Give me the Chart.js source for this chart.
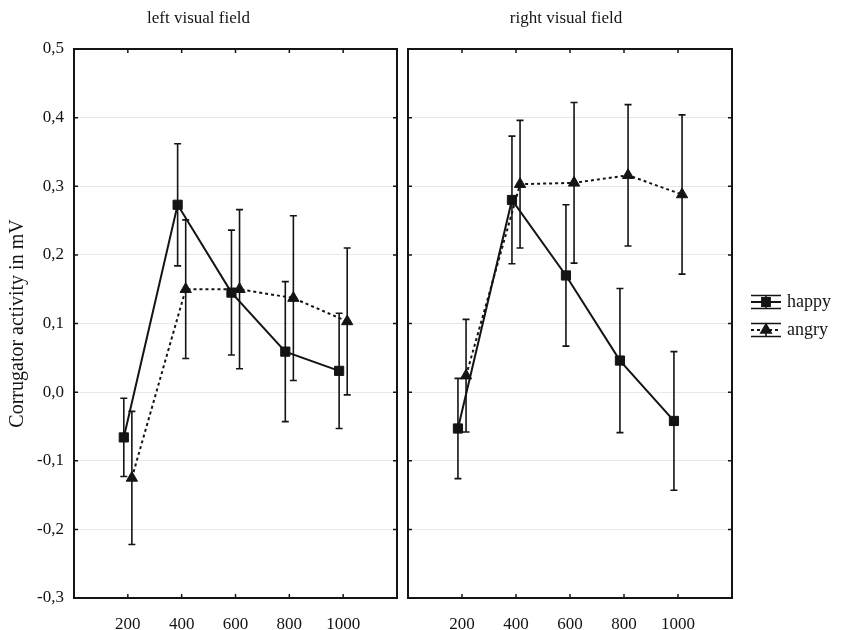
<!DOCTYPE html>
<html><head><meta charset="utf-8">
<script src="https://cdn.jsdelivr.net/npm/chart.js@4"></script>
<style>
body{margin:0;background:#fff;width:841px;height:630px;position:relative;overflow:hidden}
canvas{position:absolute;top:0}
#leftChart{left:0}
#rightChart{left:400px}
</style></head><body>
<canvas id="leftChart" width="400" height="630"></canvas>
<canvas id="rightChart" width="441" height="630"></canvas>
<script>
// time points (ms) and values
const times=[200,400,600,800,1000];
const panelTitles=['left visual field','right visual field'];
const seriesNames=['happy','angry'];
const yTitle='Corrugator activity in mV';

const leftHappy=[-0.066,0.273,0.145,0.059,0.031];
const leftHappyErr=[0.057,0.089,0.091,0.102,0.084];
const leftAngry=[-0.125,0.150,0.150,0.137,0.103];
const leftAngryErr=[0.097,0.101,0.116,0.120,0.107];

const rightHappy=[-0.053,0.280,0.170,0.046,-0.042];
const rightHappyErr=[0.073,0.093,0.103,0.105,0.101];
const rightAngry=[0.024,0.303,0.305,0.316,0.288];
const rightAngryErr=[0.082,0.093,0.117,0.103,0.116];

const dodge=15; // happy drawn slightly left, angry slightly right
const ink='#141414';
const serif='"Liberation Serif", "Times New Roman", serif';

const fmt=v=>Math.abs(v)<1e-9?'0,0':v.toFixed(1).replace('.',',');

function makeSets(happy,happyErr,angry,angryErr){
  return [{
    label:seriesNames[0],
    data:times.map((t,i)=>({x:t-dodge,y:happy[i]})),
    errs:happyErr,
    borderColor:ink,borderWidth:2,
    pointStyle:'rect',pointRadius:6.5,pointBackgroundColor:ink,pointBorderColor:ink,pointBorderWidth:1
  },{
    label:seriesNames[1],
    data:times.map((t,i)=>({x:t+dodge,y:angry[i]})),
    errs:angryErr,
    borderColor:ink,borderWidth:2,borderDash:[3,3],
    pointStyle:'triangle',pointRadius:6.5,pointBackgroundColor:ink,pointBorderColor:ink,pointBorderWidth:1
  }];
}

const errorBars={
  id:'errorBars',
  beforeDatasetsDraw(chart){
    const ctx=chart.ctx,xs=chart.scales.x,ys=chart.scales.y;
    ctx.save();
    ctx.strokeStyle=ink;ctx.lineWidth=1.6;
    chart.data.datasets.forEach(ds=>{
      ds.data.forEach((p,i)=>{
        const e=ds.errs[i];
        const x=xs.getPixelForValue(p.x);
        const y1=ys.getPixelForValue(p.y+e),y2=ys.getPixelForValue(p.y-e);
        ctx.beginPath();
        ctx.moveTo(x,y1);ctx.lineTo(x,y2);
        ctx.moveTo(x-3.5,y1);ctx.lineTo(x+3.5,y1);
        ctx.moveTo(x-3.5,y2);ctx.lineTo(x+3.5,y2);
        ctx.stroke();
      });
    });
    ctx.restore();
  }
};

// box round the plot with inward ticks on all four sides
const frame={
  id:'frame',
  afterDraw(chart){
    const ctx=chart.ctx,a=chart.chartArea,xs=chart.scales.x,ys=chart.scales.y;
    ctx.save();
    ctx.strokeStyle=ink;ctx.lineWidth=2;
    ctx.strokeRect(a.left,a.top,a.right-a.left,a.bottom-a.top);
    ctx.lineWidth=1.5;
    ctx.beginPath();
    ys.ticks.forEach(t=>{
      const y=ys.getPixelForValue(t.value);
      ctx.moveTo(a.left,y);ctx.lineTo(a.left+4,y);
      ctx.moveTo(a.right,y);ctx.lineTo(a.right-4,y);
    });
    times.forEach(t=>{
      const x=xs.getPixelForValue(t);
      ctx.moveTo(x,a.top);ctx.lineTo(x,a.top+4);
      ctx.moveTo(x,a.bottom);ctx.lineTo(x,a.bottom-4);
    });
    ctx.stroke();
    ctx.restore();
  }
};

// legend with error bar symbols, right of the right panel
const errLegend={
  id:'errLegend',
  afterDraw(chart,args,opts){
    if(!opts.show) return;
    const ctx=chart.ctx,a=chart.chartArea;
    const x0=a.right+19,w=30;
    ctx.save();
    chart.data.datasets.forEach((ds,k)=>{
      const y=302+k*28;
      ctx.strokeStyle=ink;ctx.lineWidth=1.6;ctx.setLineDash([]);
      ctx.beginPath();
      ctx.moveTo(x0,y-6.5);ctx.lineTo(x0+w,y-6.5);
      ctx.moveTo(x0,y+6.5);ctx.lineTo(x0+w,y+6.5);
      ctx.moveTo(x0+w/2,y-6.5);ctx.lineTo(x0+w/2,y+6.5);
      ctx.stroke();
      ctx.lineWidth=2;
      ctx.setLineDash(ds.borderDash||[]);
      ctx.beginPath();ctx.moveTo(x0,y);ctx.lineTo(x0+w,y);ctx.stroke();
      ctx.setLineDash([]);
      ctx.fillStyle=ink;
      Chart.helpers.drawPoint(ctx,{pointStyle:ds.pointStyle,radius:ds.pointRadius*0.85,borderWidth:1},x0+w/2,y);
      ctx.fill();
      ctx.font='18px '+serif;ctx.textBaseline='middle';ctx.textAlign='left';
      ctx.fillText(ds.label,x0+w+6,y);
    });
    ctx.restore();
  }
};

function makeChart(id,title,sets,isLeft){
  return new Chart(document.getElementById(id),{
    type:'line',
    data:{datasets:sets},
    plugins:[errorBars,frame,errLegend],
    options:{
      responsive:false,animation:false,devicePixelRatio:1,
      layout:{autoPadding:false,padding:{left:0,right:isLeft?3:109,top:0,bottom:0}},
      elements:{line:{tension:0}},
      plugins:{
        legend:{display:false},tooltip:{enabled:false},
        title:{display:true,text:title,color:ink,font:{family:serif,size:17,weight:'normal'},padding:{top:8,bottom:20.6}},
        errLegend:{show:!isLeft}
      },
      scales:{
        x:{type:'linear',min:0,max:1200,
          grid:{display:false},border:{display:false},
          ticks:{stepSize:200,autoSkip:false,maxRotation:0,padding:8,color:ink,
            font:{family:serif,size:17},
            callback:v=>(times.includes(v)?String(v):'')},
          afterFit:s=>{s.height=32;s.paddingLeft=0;s.paddingRight=0;}
        },
        y:{min:-0.3,max:0.5,
          grid:{color:'#e8e8e8',lineWidth:1,drawTicks:false},border:{display:false},
          ticks:{display:isLeft,stepSize:0.1,padding:10,color:ink,font:{family:serif,size:17},callback:v=>fmt(v)},
          title:{display:isLeft,text:yTitle,color:ink,font:{family:serif,size:20},padding:{top:6,bottom:0}},
          afterFit:s=>{s.width=isLeft?74:8;}
        }
      }
    }
  });
}

makeChart('leftChart',panelTitles[0],makeSets(leftHappy,leftHappyErr,leftAngry,leftAngryErr),true);
makeChart('rightChart',panelTitles[1],makeSets(rightHappy,rightHappyErr,rightAngry,rightAngryErr),false);
</script>
</body></html>
